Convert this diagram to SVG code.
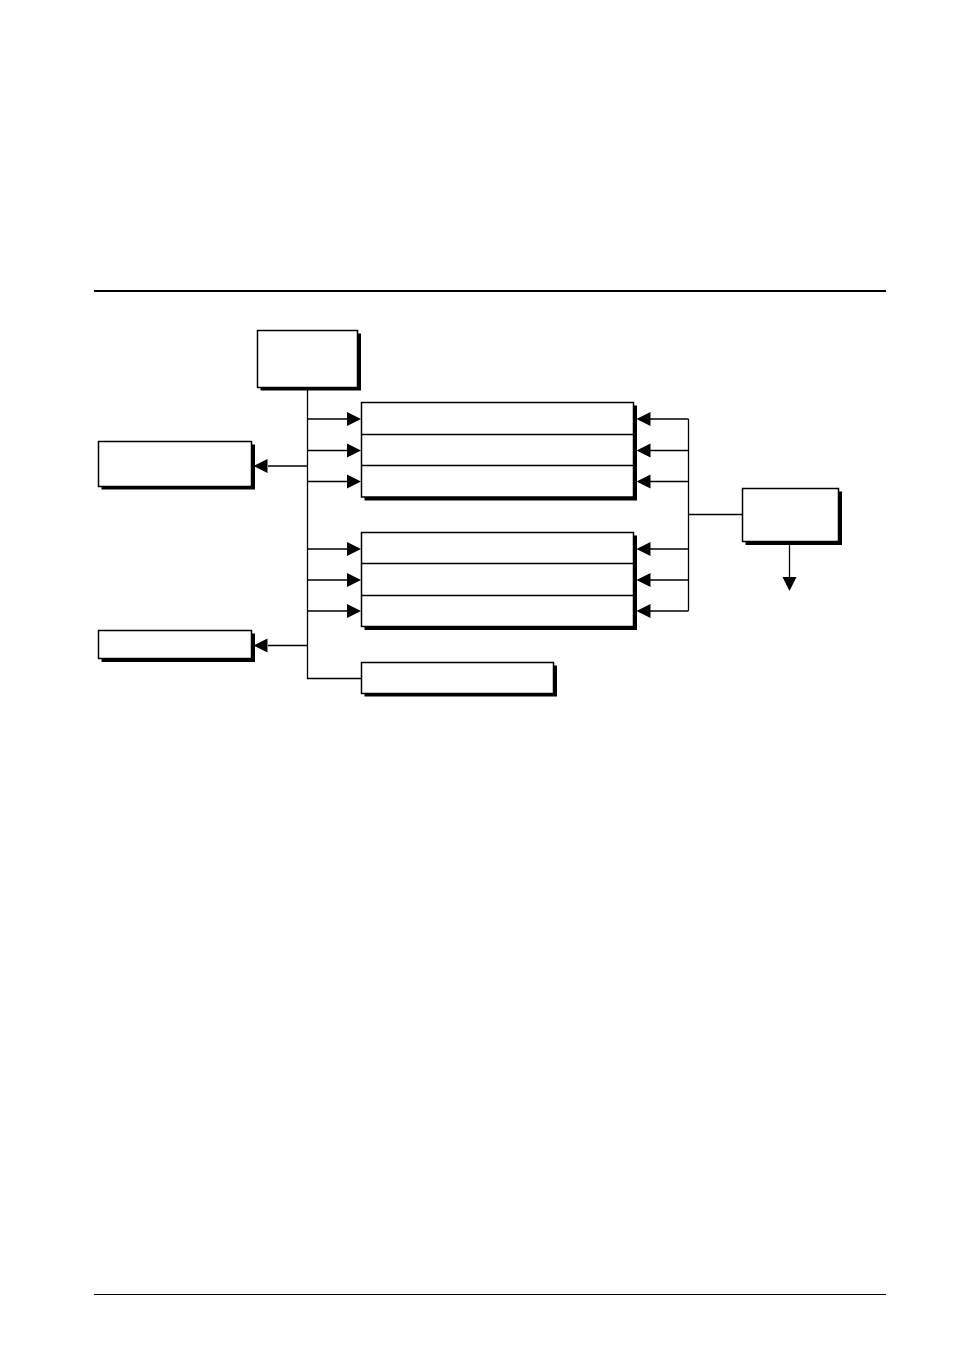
<svg xmlns="http://www.w3.org/2000/svg" width="954" height="1346" viewBox="0 0 954 1346">
<style>
.box{fill:#fff;stroke:#000;stroke-width:1.5}
.sh{fill:#000}
.ln{stroke:#000;stroke-width:1.3;fill:none}
.ah{fill:#000}
</style>
<rect width="954" height="1346" fill="#fff"/>
<line x1="94" y1="291" x2="886" y2="291" stroke="#000" stroke-width="2"/>
<line x1="94" y1="1294.5" x2="886" y2="1294.5" stroke="#000" stroke-width="1.2"/>
<g id="connectors">
<path class="ln" d="M307.5 387.5V678.5H361"/>
<path class="ln" d="M307.5 419H348M307.5 450.5H348M307.5 481.5H348M307.5 549H348M307.5 580H348M307.5 611H348"/>
<path class="ln" d="M307.5 466H268M307.5 645.5H268"/>
<path class="ln" d="M688.5 419V611M688.5 419H650M688.5 450.5H650M688.5 481.5H650M688.5 549H650M688.5 580H650M688.5 611H650M688.5 514.5H743"/>
<path class="ln" d="M789.5 542V578"/>
<g class="ah">
<path d="M361 419l-14 -7v14z"/><path d="M361 450.5l-14 -7v14z"/><path d="M361 481.5l-14 -7v14z"/>
<path d="M361 549l-14 -7v14z"/><path d="M361 580l-14 -7v14z"/><path d="M361 611l-14 -7v14z"/>
<path d="M253.5 466l14 -7v14z"/><path d="M253.5 645.5l14 -7v14z"/>
<path d="M636.5 419l14 -7v14z"/><path d="M636.5 450.5l14 -7v14z"/><path d="M636.5 481.5l14 -7v14z"/>
<path d="M636.5 549l14 -7v14z"/><path d="M636.5 580l14 -7v14z"/><path d="M636.5 611l14 -7v14z"/>
<path d="M789.5 591l-7 -14h14z"/>
</g>
</g>
<g id="top-box"><rect class="sh" x="260.5" y="333.5" width="100.5" height="57"/><rect class="box" x="257.5" y="330.5" width="100" height="57"/></g>
<g id="left-box-1"><rect class="sh" x="101.5" y="444.5" width="153.5" height="45"/><rect class="box" x="98.5" y="441.5" width="153" height="45"/></g>
<g id="left-box-2"><rect class="sh" x="101.5" y="633.5" width="153.5" height="28.5"/><rect class="box" x="98.5" y="630.5" width="153" height="28"/></g>
<g id="group-1"><rect class="sh" x="364.5" y="405.5" width="272.5" height="95"/><rect class="box" x="361.5" y="402.5" width="272" height="94.5"/>
<line class="ln" x1="361.5" y1="434.5" x2="633.5" y2="434.5"/><line class="ln" x1="361.5" y1="465.5" x2="633.5" y2="465.5"/></g>
<g id="group-2"><rect class="sh" x="364.5" y="535.5" width="272.5" height="94.5"/><rect class="box" x="361.5" y="532.5" width="272" height="94"/>
<line class="ln" x1="361.5" y1="563.5" x2="633.5" y2="563.5"/><line class="ln" x1="361.5" y1="595.5" x2="633.5" y2="595.5"/></g>
<g id="bottom-box"><rect class="sh" x="364.5" y="665.5" width="192.5" height="31"/><rect class="box" x="361.5" y="662.5" width="192" height="31"/></g>
<g id="right-box"><rect class="sh" x="745.5" y="491.5" width="96.5" height="53.5"/><rect class="box" x="742.5" y="488.5" width="96" height="53"/></g>
</svg>
